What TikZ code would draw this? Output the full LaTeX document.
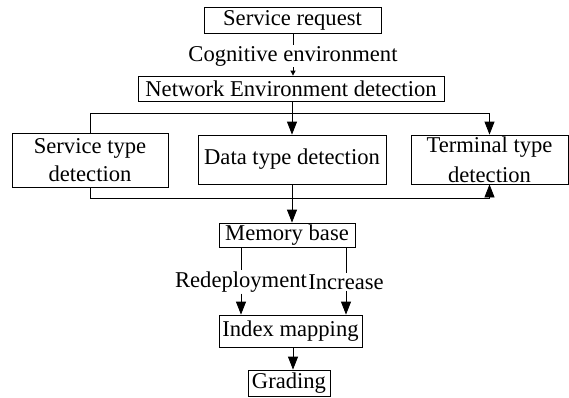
\documentclass[tikz,border=0pt]{standalone}
\usepackage{fontspec}
\setmainfont{Liberation Serif}
\usetikzlibrary{arrows.meta}

\begin{document}
\begin{tikzpicture}[x=1pt, y=-1pt, line width=0.8pt, >={Triangle[length=13pt,width=10pt]},
    box/.style = {draw, inner sep=0pt, align=center, font=\fontsize{22.6}{28}\selectfont},
    lbl/.style = {inner sep=1pt, font=\fontsize{22.6}{28}\selectfont}]
    \useasboundingbox (0,0) rectangle (569,397);
    % top of the chain
    \node[box, minimum width=177pt, minimum height=26pt] (req) at (292.5,20) {Service request};
    \node[lbl] (cog) at (293,56) {Cognitive environment};
    \node[box, minimum width=306pt, minimum height=25pt] (ned) at (291,88.5) {Network Environment detection};
    \draw (req.south -| cog) -- (cog.north);
    \draw [->, >={Triangle[length=5pt,width=5pt]}] (cog.south) -- (cog.south |- ned.north);
    %
    \node[box, minimum width=156pt, minimum height=54pt] (svc) at (90,160) {Service type\\detection};
    \node[box, minimum width=188pt, minimum height=49pt] (dat) at (292,159.5) {Data type detection};
    \node[box, minimum width=157pt, minimum height=49pt] (ter) at (489.5,159.5) {Terminal type\\[2pt]detection};
    \draw [->] (ned.south -| dat) -- (dat.north);
    \draw [->] (svc.north) -- ++(0,-19) -| (ter.north);
    \draw [->] (svc.south) -- ++(0,11) -| (ter.south);
    %
    \node[box, minimum width=136pt, minimum height=24pt] (mem) at (287,235) {Memory base};
    \draw [->] (dat.south) -- (dat.south |- mem.north);
    \node[lbl] (rdp) at (241,282) {Redeployment};
    \node[lbl] (inc) at (346,282) {Increase};
    \node[box, minimum width=143pt, minimum height=32pt] (idx) at (290.5,331) {Index mapping};
    \node[box, minimum width=82pt, minimum height=26pt] (grd) at (289,383) {Grading};
    \draw (mem.south -| rdp) -- (rdp.north);
    \draw (mem.south -| inc) -- (inc.north);
    \draw [->] (rdp.south) -- (rdp.south |- idx.north);
    \draw [->] (inc.south) -- (inc.south |- idx.north);
    \draw [->] (idx.south -| 293,0) -- (grd.north -| 293,0);
\end{tikzpicture}
\end{document}
